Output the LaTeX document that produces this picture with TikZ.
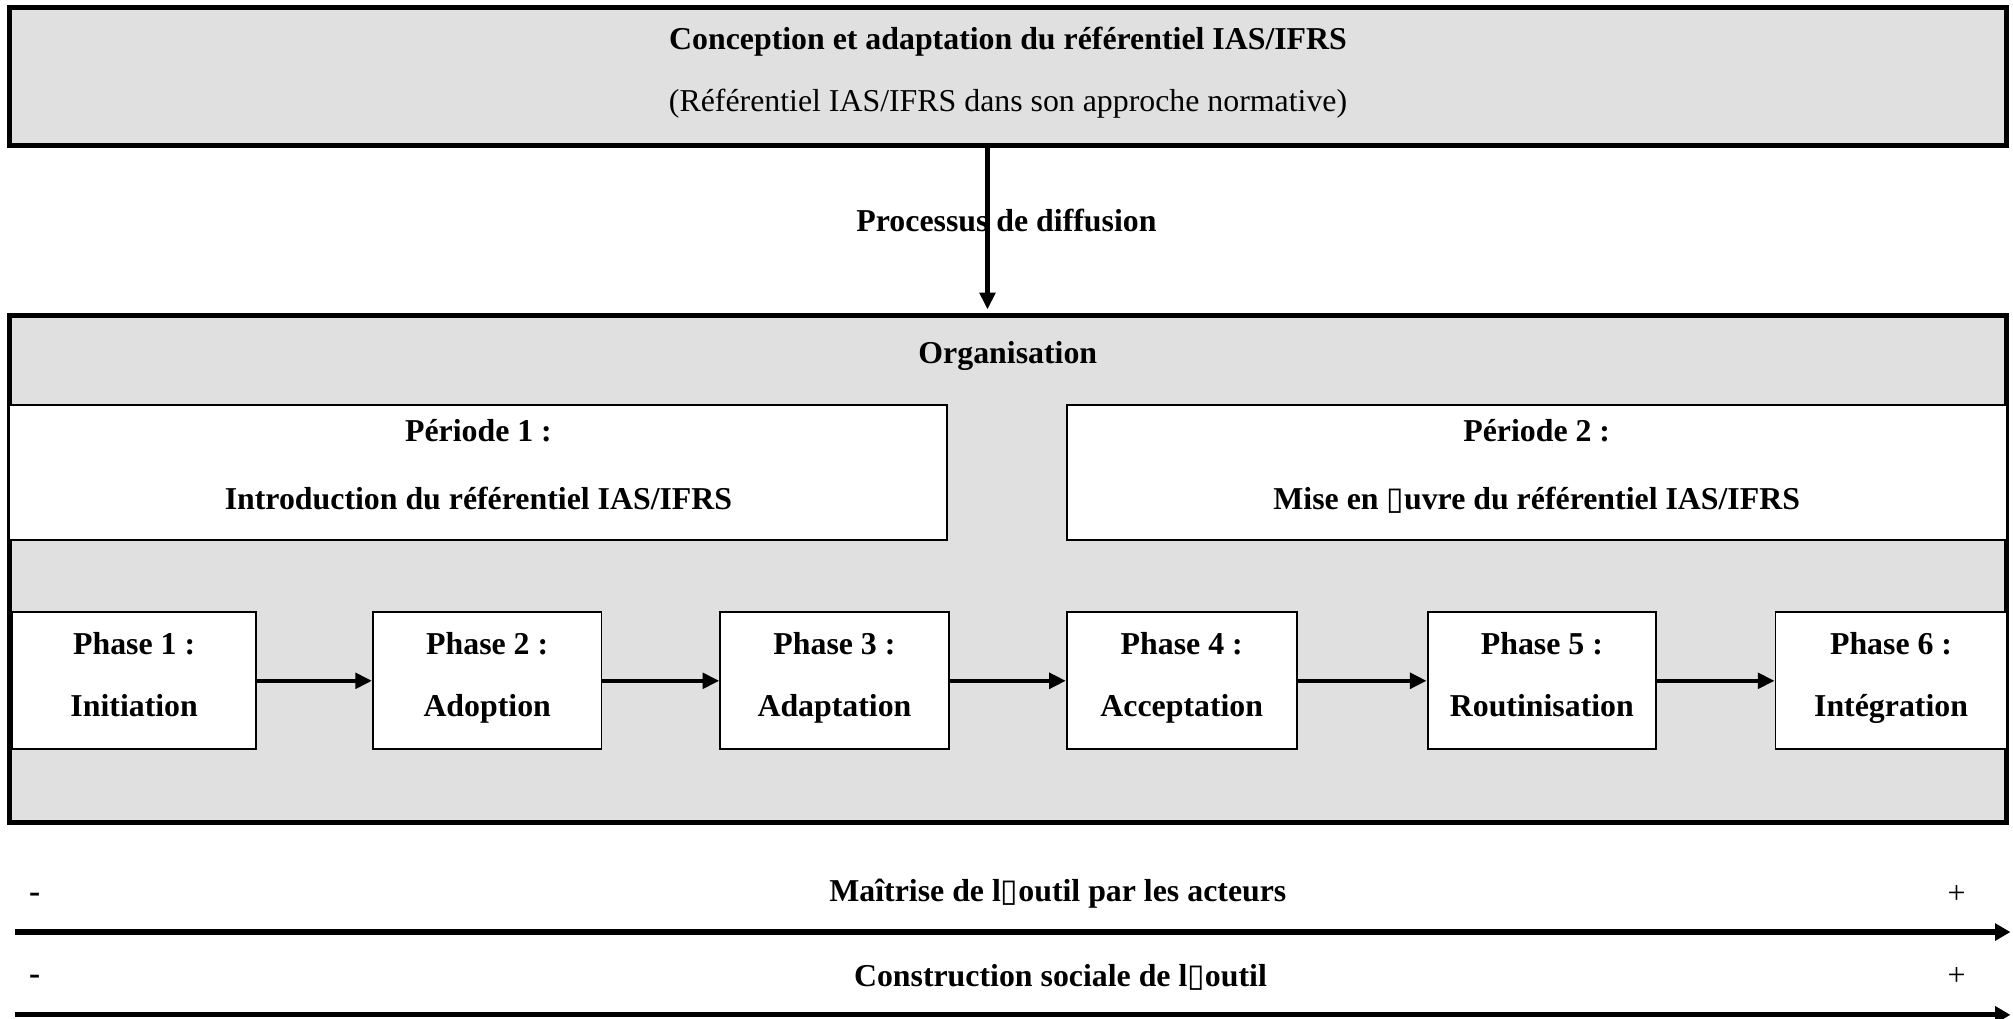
\documentclass[tikz,border=0pt]{standalone}
\usepackage{fontspec}
\setmainfont{Liberation Serif}
\newfontfamily\symbfont{DejaVu Sans}
\usetikzlibrary{arrows.meta,calc}
\definecolor{fondgris}{RGB}{224,224,224}
\newcommand{\lettrevide}{{\symbfont\char"25AF}}

\begin{document}
\begin{tikzpicture}[x=0.5pt, y=-0.5pt,
    font=\fontsize{12.4}{24}\selectfont,
    cadre/.style={draw, line width=2pt, fill=fondgris, inner sep=0pt},
    periode/.style={draw, line width=0.75pt, fill=white, align=center, minimum height=52.5pt,
        font=\fontsize{12.4}{26.5}\selectfont\bfseries, text depth=6.5pt},
    phase/.style={draw, line width=0.75pt, fill=white, align=center, minimum height=53.3pt,
        minimum width=89pt, inner sep=0pt, font=\fontsize{12.4}{24}\selectfont\bfseries, text depth=5pt},
    fleche/.style={line width=1.6pt, -{Triangle[length=6.5pt, width=6pt]}},
    axe/.style={line width=2pt, -{Triangle[length=6pt, width=6.5pt]}}]
    \useasboundingbox (0,0) rectangle (1568,793);
    % referentiel et organisation
    \node[cadre, minimum width=777.8pt, minimum height=53.5pt, align=center, text depth=5.5pt] (norme) at (785.2,59.5)
        {\textbf{Conception et adaptation du référentiel IAS/IFRS}\\(Référentiel IAS/IFRS dans son approche normative)};
    \node[cadre, minimum width=777.8pt, minimum height=197.5pt] (orga) at (785.2,443.5) {};
    \node[anchor=base, font=\fontsize{12.4}{24}\selectfont\bfseries] (orgtitre) at (785,283) {Organisation};
    \node[anchor=base, font=\fontsize{12.4}{24}\selectfont\bfseries] (diffusion) at (784,180.5) {Processus de diffusion};
    \draw[fleche] ($(norme.south)+(-16,0)$) -- ($(orga.north)+(-16,-3)$);
    % periodes
    \node[periode, minimum width=365.3pt] (per1) at (372.7,368) {Période 1 :\\Introduction du référentiel IAS/IFRS};
    \node[periode, minimum width=366pt] (per2) at (1197,368) {Période 2 :\\Mise en \lettrevide uvre du référentiel IAS/IFRS};
    % phases
    \node[phase, minimum width=95pt] (ph1) at (104.5,530.3) {Phase 1 :\\Initiation};
    \node[phase] (ph2) at (379.5,530.3) {Phase 2 :\\Adoption};
    \node[phase] (ph3) at (650,530.3) {Phase 3 :\\Adaptation};
    \node[phase, minimum width=89.5pt] (ph4) at (920.5,530.3) {Phase 4 :\\Acceptation};
    \node[phase] (ph5) at (1201,530.3) {Phase 5 :\\Routinisation};
    \node[phase, minimum width=90pt] (ph6) at (1473,530.3) {Phase 6 :\\Intégration};
    \foreach \a/\b in {ph1/ph2, ph2/ph3, ph3/ph4, ph4/ph5, ph5/ph6}
        \draw[fleche] (\a.east) -- (\b.west);
    % axes
    \coordinate (d1) at (12,726);   \coordinate (f1) at (1566,726);
    \coordinate (d2) at (12,790.5); \coordinate (f2) at (1566,790.5);
    \node[font=\fontsize{13}{24}\selectfont\bfseries] (moins1) at (27,699) {-};
    \node (plus1) at (1524,697) {+};
    \node[anchor=base, font=\fontsize{12.4}{24}\selectfont\bfseries] (maitrise) at (824,702.5) {Maîtrise de l\lettrevide outil par les acteurs};
    \node[font=\fontsize{13}{24}\selectfont\bfseries] (moins2) at (27,763) {-};
    \node (plus2) at (1524,761) {+};
    \node[anchor=base, font=\fontsize{12.4}{24}\selectfont\bfseries] (construction) at (826,768.5) {Construction sociale de l\lettrevide outil};
    \draw[axe] (d1) -- (f1);
    \draw[axe] (d2) -- (f2);
\end{tikzpicture}
\end{document}
